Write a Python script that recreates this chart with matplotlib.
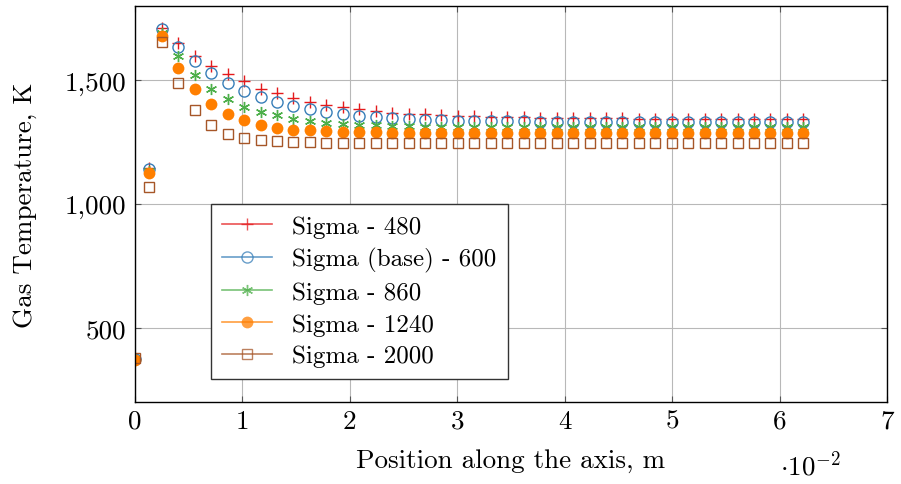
import matplotlib
matplotlib.use('Agg')
import matplotlib.pyplot as plt
from matplotlib.lines import Line2D
from matplotlib.ticker import FuncFormatter, MultipleLocator

plt.rcParams['font.family'] = 'serif'
plt.rcParams['font.serif'] = ['cmr10']
plt.rcParams['mathtext.fontset'] = 'cm'
plt.rcParams['axes.unicode_minus'] = False
plt.rcParams['axes.formatter.use_mathtext'] = True

# posiciones a lo largo del eje, m
x = [0.0, 0.00135, 0.0025, 0.00403, 0.00556, 0.00709, 0.00862, 0.01016,
     0.01169, 0.01322, 0.01475, 0.01628, 0.01781, 0.01934, 0.02087, 0.0224,
     0.02393, 0.02547, 0.027, 0.02853, 0.03006, 0.03159, 0.03312, 0.03465,
     0.03618, 0.03771, 0.03924, 0.04078, 0.04231, 0.04384, 0.04537, 0.0469,
     0.04843, 0.04996, 0.05149, 0.05302, 0.05455, 0.05609, 0.05762, 0.05915,
     0.06068, 0.0622]

t_480 = [375, 1145, 1711, 1650, 1598, 1556, 1524, 1495, 1466, 1450, 1430, 1412,
         1400, 1392, 1382, 1375, 1369, 1365, 1362, 1358, 1356, 1354, 1352, 1351,
         1350, 1349, 1348, 1347, 1347, 1346, 1346, 1345, 1345, 1345, 1344, 1344,
         1344, 1344, 1343, 1343, 1343, 1343]
t_600 = [375, 1142, 1707, 1635, 1576, 1528, 1488, 1457, 1432, 1412, 1396, 1382,
         1373, 1365, 1355, 1351, 1346, 1343, 1340, 1338, 1337, 1336, 1335, 1334,
         1334, 1333, 1333, 1333, 1332, 1332, 1332, 1332, 1331, 1331, 1331, 1331,
         1331, 1331, 1331, 1331, 1331, 1331]
t_860 = [372, 1135, 1690, 1598, 1521, 1466, 1426, 1393, 1373, 1358, 1342, 1335,
         1328, 1324, 1320, 1318, 1316, 1314, 1313, 1312, 1311, 1311, 1311, 1311,
         1311, 1310, 1310, 1310, 1310, 1310, 1310, 1310, 1310, 1310, 1310, 1310,
         1310, 1310, 1310, 1310, 1310, 1310]
t_1240 = [370, 1125, 1680, 1551, 1464, 1403, 1362, 1338, 1318, 1308, 1301, 1297,
          1294, 1291, 1290, 1289, 1288, 1287, 1287, 1287, 1287, 1287, 1287, 1287,
          1286, 1286, 1286, 1286, 1286, 1286, 1286, 1286, 1286, 1286, 1286, 1286,
          1286, 1286, 1286, 1286, 1286, 1286]
t_2000 = [378, 1067, 1655, 1487, 1378, 1318, 1284, 1268, 1257, 1254, 1250, 1249,
          1248, 1248, 1248, 1247, 1247, 1247, 1247, 1247, 1247, 1247, 1246, 1246,
          1246, 1246, 1246, 1246, 1246, 1246, 1246, 1246, 1246, 1246, 1246, 1246,
          1246, 1246, 1246, 1246, 1246, 1246]

etiquetas = ['Sigma - 480', 'Sigma (base) - 600', 'Sigma - 860',
             'Sigma - 1240', 'Sigma - 2000']
series = [t_480, t_600, t_860, t_1240, t_2000]
colores = ['#e41a1c', '#377eb8', '#4daf4a', '#ff7f00', '#a65628']
marcas = [dict(marker='+', ms=9, mew=1.0),
          dict(marker='o', ms=8, mfc='none', mew=1.0),
          dict(marker=(6, 2, 0), ms=8, mew=1.0),
          dict(marker='o', ms=8.5, mew=0),
          dict(marker='s', ms=7.5, mfc='none', mew=1.0)]

fig = plt.figure(figsize=(9.01, 4.85), dpi=100)
ax = fig.add_axes([0.1498, 0.169, 0.8347, 0.8166])

handles = []
for y, c, m, lab in zip(series, colores, marcas, etiquetas):
    kw = dict(m)
    if m.get('mfc') != 'none':
        kw['mfc'] = c
    ax.plot(x, y, ls='none', color=c, **kw)
    handles.append(Line2D([], [], color=c, lw=1.2, alpha=0.75, **kw))

ax.set_xlim(0, 0.07)
ax.set_ylim(200, 1800)
ax.xaxis.set_major_locator(MultipleLocator(0.01))
ax.yaxis.set_major_locator(MultipleLocator(500))
ax.xaxis.set_major_formatter(FuncFormatter(lambda v, p: '%d' % round(v * 100)))
ax.yaxis.set_major_formatter(FuncFormatter(lambda v, p: '{:,}'.format(int(v))))
ax.grid(True, color='#b8b8b8', lw=0.8)
ax.set_axisbelow(True)
ax.tick_params(direction='in', top=True, right=True, length=4,
               color='#555555', labelsize=19.5)
ax.tick_params(axis='x', pad=5)
ax.tick_params(axis='y', pad=6)
for s in ax.spines.values():
    s.set_linewidth(1.0)

ax.set_xlabel('Position along the axis, m', fontsize=19.5, labelpad=11)
ax.set_ylabel('Gas Temperature, K', fontsize=19.5, labelpad=20)
fig.text(0.9, 0.04, r'$\cdot 10^{-2}$', fontsize=19.5, ha='center', va='center')

leg = ax.legend(handles, etiquetas, loc='upper left', bbox_to_anchor=(0.101, 0.5),
                borderaxespad=0, fontsize=18, fancybox=False, framealpha=1,
                edgecolor='#333333', handlelength=2.0, labelspacing=0.37,
                borderpad=0.45, handletextpad=0.8)
leg.get_frame().set_linewidth(1.0)

plt.savefig('out.png', dpi=100)
